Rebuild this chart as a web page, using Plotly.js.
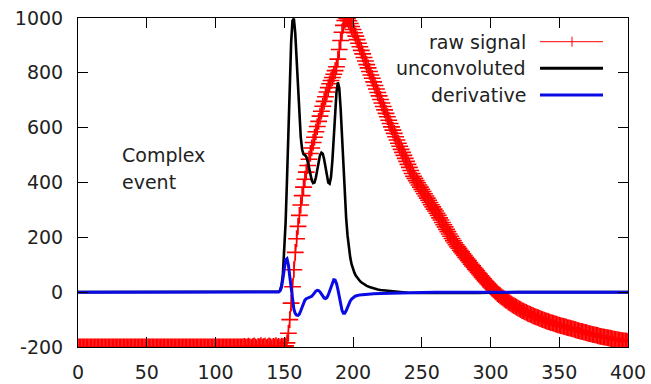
<!DOCTYPE html>
<html>
<head>
<meta charset="utf-8">
<script src="https://cdn.plot.ly/plotly-3.0.1.min.js"></script>
<style>html,body{margin:0;padding:0;background:#fff;}#chart{width:651px;height:384px;}</style>
</head>
<body>
<div id="chart"></div>
<script>
// ---- data ----
const seriesNames = ["raw signal", "unconvoluted", "derivative"];

// raw signal, sampled at x = 0, 1, 2, ... 400
const rawStartX = 0;
const rawY = [
-200,-200,-200,-200,-200,-200,-200,-200,-200,-200,-200,-200,-200,-200,-200,-200,-200,-200,-200,-200,
-200,-200,-200,-200,-200,-200,-200,-200,-200,-200,-200,-200,-200,-200,-200,-200,-200,-200,-200,-200,
-200,-200,-200,-200,-200,-200,-200,-200,-200,-200,-200,-200,-200,-200,-200,-200,-200,-200,-200,-200,
-200,-200,-200,-200,-200,-200,-200,-200,-200,-200,-200,-200,-200,-200,-200,-200,-200,-200,-200,-200,
-200,-200,-200,-200,-200,-200,-200,-200,-200,-200,-200,-200,-200,-200,-200,-200,-200,-200,-200,-200,
-200,-200,-200,-200,-200,-200,-200,-200,-200,-200,-200,-200,-200,-200,-200,-200,-200,-200,-200,-200,
-200,-198,-201,-200,-197,-200,-202,-199,-196,-200,-203,-198,-200,-195,-201,-199,-197,-202,-200,-196,
-199,-203,-198,-200,-195,-201,-198,-202,-197,-199,
-198,-196,-185,-150,-100,-40,20,82,145,195,240,280,318,352,383,412,438,462,485,506,
526,546,565,585,604,623,642,660,678,696,713,730,746,760,772,783,795,808,822,850,
885,918,948,973,991,1000,
997,990,980,969,958,946,934,921,908,895,882,869,856,843,830,818,805,792,780,767,
754,741,728,716,703,690,677,665,652,640,627,615,603,591,579,567,555,543,532,521,
510,499,488,477,466,455,444,433,423,
415,407,399,391,383,375,367,359,351,343,335,327,319,311,303,296,
288,280,271,263,254,246,238,229,221,212,204,196,188,180,
173,166,160,153,147,140,134,127,121,115,108,102,96,90,84,78,72,66,60,54,
48,42,37,31,26,20,15,10,5,0,-5,
-9,-13,-17,-21,-25,-29,-32,-36,-39,-43,-46,-49,-52,-55,-58,-61,-64,-67,
-69,-72,-74,-77,-79,-81,-84,-86,-88,-90,-92,-94,-96,-98,-100,-102,-104,-106,-107,-109,
-111,-112,-114,-116,-117,-119,-120,-122,-123,-125,-126,-127,-129,-130,-131,
-133,-134,-136,-137,-139,-140,-142,-143,-144,-146,-147,-148,-150,-151,-152,-154,-155,-156,-157,-158,
-160,-161,-162,-163,-164,-165,-166,-167,-168,-169,-170,-171,-172,-173,-174,-175,-176,-177,-178,-178,
-179,-180
];

// unconvoluted
const blackX = [0,50,100,140,145,
146,147,148,149,150,151,152,153,154,155,156,157,158,159,160,161,162,163,164,165,
166,167,168,169,170,171,172,173,174,175,176,177,178,179,180,181,182,183,184,185,
186,187,188,189,190,191,192,193,194,195,196,197,198,199,200,201,202,203,204,205,
206,207,208,209,210,
212,214,216,218,220,225,230,235,240,250,270,290,300,320,400];
const blackY = [0,0,0,0,0,
2,8,25,65,140,255,410,590,770,910,990,998,945,850,740,640,565,520,503,500,
494,478,453,428,408,398,400,418,447,478,500,509,505,485,455,423,400,396,420,480,
570,660,730,765,745,670,565,455,355,272,208,160,126,101,84,71,61,53,46,41,
36,32,29,26,23,
19,15,12,10,8,5,2,0,-2,-3,-4,-3,-2,0,0];

// derivative
const blueX = [0,50,100,140,145,
146,147,148,149,150,151,152,153,154,155,156,157,158,159,160,161,162,163,164,165,
166,167,168,169,170,171,172,173,174,175,176,177,178,179,180,181,182,183,184,185,
186,187,188,189,190,191,192,193,194,195,196,197,198,199,200,201,202,203,204,205,
207,210,215,220,230,240,250,260,400];
const blueY = [0,0,0,0,0,
1,5,18,48,90,118,122,100,58,10,-32,-62,-78,-84,-85,-80,-68,-52,-38,-29,
-24,-22,-21,-19,-15,-9,-2,4,7,6,1,-7,-15,-21,-23,-20,-10,5,22,37,
45,44,32,10,-18,-45,-66,-77,-77,-68,-54,-42,-32,-25,-20,-17,-14,-12,-11,-10,
-9,-7,-6,-5,-3,-2,-1,0,0];

const xTickVals = [0,50,100,150,200,250,300,350,400];
const xTickText = ["0","50","100","150","200","250","300","350","400"];
const yTickVals = [-200,0,200,400,600,800,1000];
const yTickText = ["-200","0","200","400","600","800","1000"];
const noteLines = ["Complex", "event"];

// ---- drawing ----
const rawX = rawY.map((_, i) => rawStartX + i);
const FONT = "DejaVu Sans";
const TXT = "#222";

const traces = [
  {x: rawX, y: rawY, name: seriesNames[0], type: "scatter", mode: "lines+markers",
   line: {color: "#ff0000", width: 1.2},
   marker: {symbol: "cross-thin", size: 12, color: "#ff0000", line: {color: "#ff0000", width: 1.6}}},
  {x: blackX, y: blackY, name: seriesNames[1], type: "scatter", mode: "lines",
   line: {color: "#000000", width: 2.6}},
  {x: blueX, y: blueY, name: seriesNames[2], type: "scatter", mode: "lines",
   line: {color: "#0a0ae6", width: 3}}
];

const L = 78, R = 628, T = 18, B = 347;
const px = v => (v - L) / (R - L);
const py = v => (B - v) / (B - T);

const legendRows = [41.7, 68.3, 95];
const legendColors = ["#ff0000", "#000000", "#0a0ae6"];
const legendWidths = [1, 3, 3];
const annotations = [];
const shapes = [];
seriesNames.forEach((n, i) => {
  annotations.push({xref: "paper", yref: "paper", x: px(528), y: py(legendRows[i]),
    xanchor: "right", yanchor: "middle", text: n, showarrow: false,
    font: {family: FONT, size: 19, color: TXT}});
  shapes.push({type: "line", xref: "paper", yref: "paper", x0: px(540), x1: px(603),
    y0: py(legendRows[i]), y1: py(legendRows[i]),
    line: {color: legendColors[i], width: legendWidths[i]}});
});
shapes.push({type: "line", xref: "paper", yref: "paper", x0: px(572), x1: px(572),
  y0: py(legendRows[0] - 5), y1: py(legendRows[0] + 5), line: {color: "#ff0000", width: 1}});

noteLines.forEach((t, i) => {
  annotations.push({xref: "paper", yref: "paper", x: px(120), y: py(155 + i * 26.7),
    xanchor: "left", yanchor: "middle", text: t, showarrow: false,
    font: {family: FONT, size: 19, color: TXT}});
});

const axisCommon = {
  ticks: "inside", ticklen: 10, tickwidth: 1, tickcolor: "#000",
  showline: true, linecolor: "#000", linewidth: 1, mirror: "ticks",
  showgrid: false, zeroline: false, fixedrange: true,
  tickfont: {family: FONT, size: 19, color: TXT}
};

const layout = {
  width: 651, height: 384,
  margin: {l: L, r: 651 - R, t: T, b: 384 - B, pad: 0},
  paper_bgcolor: "#fff", plot_bgcolor: "#fff",
  showlegend: false,
  xaxis: Object.assign({}, axisCommon, {range: [0, 400], tickmode: "array",
    tickvals: xTickVals, ticktext: xTickText, ticklabelstandoff: 8}),
  yaxis: Object.assign({}, axisCommon, {range: [-200, 1000], tickmode: "array",
    tickvals: yTickVals, ticktext: yTickText, ticklabelstandoff: 10}),
  annotations: annotations,
  shapes: shapes
};

Plotly.newPlot("chart", traces, layout, {displayModeBar: false, staticPlot: true});
</script>
</body>
</html>
